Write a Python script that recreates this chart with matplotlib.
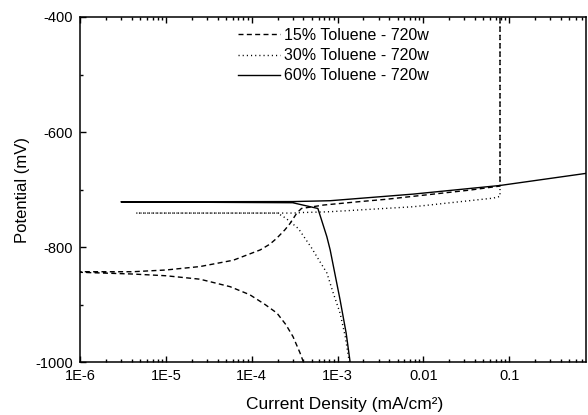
import matplotlib.pyplot as plt
from matplotlib.ticker import FixedLocator, FixedFormatter, LogLocator, NullFormatter, MultipleLocator

plt.rcParams['font.family'] = ['Liberation Sans', 'DejaVu Sans']
plt.rcParams['axes.unicode_minus'] = False

# 15% Toluene - 720w (dashed): cathodic branch, then anodic branch
i_15 = [4.0e-4, 3.65e-4, 3.03e-4, 2.5e-4, 1.97e-4, 1.43e-4, 9.5e-5, 5.6e-5, 2.5e-5, 1.0e-5, 4.1e-6, 1.0e-6,
        1.0e-6, 4.1e-6, 1.0e-5, 2.5e-5, 6.1e-5, 9.5e-5, 1.26e-4, 1.63e-4, 1.95e-4, 2.44e-4, 2.8e-4,
        3.35e-4, 3.8e-4, 6.9e-4, 1.83e-3, 3.7e-3, 0.035, 0.078, 0.078]
e_15 = [-1000, -984, -956, -935, -915, -900, -883, -869, -856, -850, -847, -844,
        -843, -843, -840, -834, -823, -812, -805, -795, -785, -770, -759,
        -741, -733, -727, -721, -717, -701, -694, -400]

# 30% Toluene - 720w (dotted)
i_30 = [1.37e-3, 1.34e-3, 1.23e-3, 1.07e-3, 8.9e-4, 7.5e-4, 6.2e-4, 5.0e-4, 3.5e-4, 2.5e-4,
        2.0e-4, 4.5e-6, 3.0e-4, 4.0e-4, 7.0e-4, 8.2e-4, 7.6e-3, 0.065, 0.078, 0.078]
e_30 = [-1000, -991, -956, -915, -880, -845, -825, -802, -768, -750,
        -741, -741, -741, -740, -739, -738.6, -730, -715, -712, -400]

# 60% Toluene - 720w (solid)
i_60 = [1.40e-3, 1.26e-3, 1.07e-3, 8.2e-4, 7.5e-4, 5.9e-4, 3.0e-4, 3.0e-6,
        3.0e-4, 6.0e-4, 8.2e-4, 7.6e-3, 0.078, 0.78]
e_60 = [-1000, -950, -892, -805, -782, -733, -723, -721.5,
        -721, -720, -719.5, -708, -693, -672]

labels = ['15% Toluene - 720w', '30% Toluene - 720w', '60% Toluene - 720w']
xtick_vals = [1e-6, 1e-5, 1e-4, 1e-3, 1e-2, 1e-1]
xtick_labels = ['1E-6', '1E-5', '1E-4', '1E-3', '0.01', '0.1']
ytick_vals = [-1000, -800, -600, -400]

fig = plt.figure(figsize=(5.88, 4.15), dpi=100)
ax = fig.add_axes([80 / 588, 1 - 362 / 415, 506 / 588, 345 / 415])

ax.plot(i_15, e_15, color='black', lw=1.0, dashes=(3.6, 2.4), label=labels[0])
ax.plot(i_30, e_30, color='black', lw=1.0, dashes=(0.8, 2.2), label=labels[1])
ax.plot(i_60, e_60, color='black', lw=1.0, label=labels[2])

ax.set_xscale('log')
ax.set_xlim(1e-6, 0.783)
ax.set_ylim(-1000, -400)

ax.xaxis.set_major_locator(FixedLocator(xtick_vals))
ax.xaxis.set_major_formatter(FixedFormatter(xtick_labels))
ax.xaxis.set_minor_locator(LogLocator(base=10, subs=range(2, 10)))
ax.xaxis.set_minor_formatter(NullFormatter())
ax.yaxis.set_major_locator(FixedLocator(ytick_vals))
ax.yaxis.set_minor_locator(MultipleLocator(100))

ax.tick_params(which='both', direction='in', top=True, right=False, width=1.0,
               labelsize=10.5, pad=5)
ax.tick_params(which='major', length=4.5)
ax.tick_params(which='minor', length=2.3)
for s in ax.spines.values():
    s.set_linewidth(1.1)

ax.set_xlabel('Current Density (mA/cm²)', fontsize=12.5)
ax.xaxis.set_label_coords(0.522, -0.1)
ax.set_ylabel('Potential (mV)', fontsize=12, labelpad=4)

ax.legend(loc='upper left', bbox_to_anchor=(238 / 588, 1 - 28 / 415),
          bbox_transform=fig.transFigure, frameon=False, fontsize=11.5,
          handlelength=2.6, handletextpad=0.3, labelspacing=0.32, borderpad=0,
          borderaxespad=0)

fig.savefig('out.png', dpi=100)
